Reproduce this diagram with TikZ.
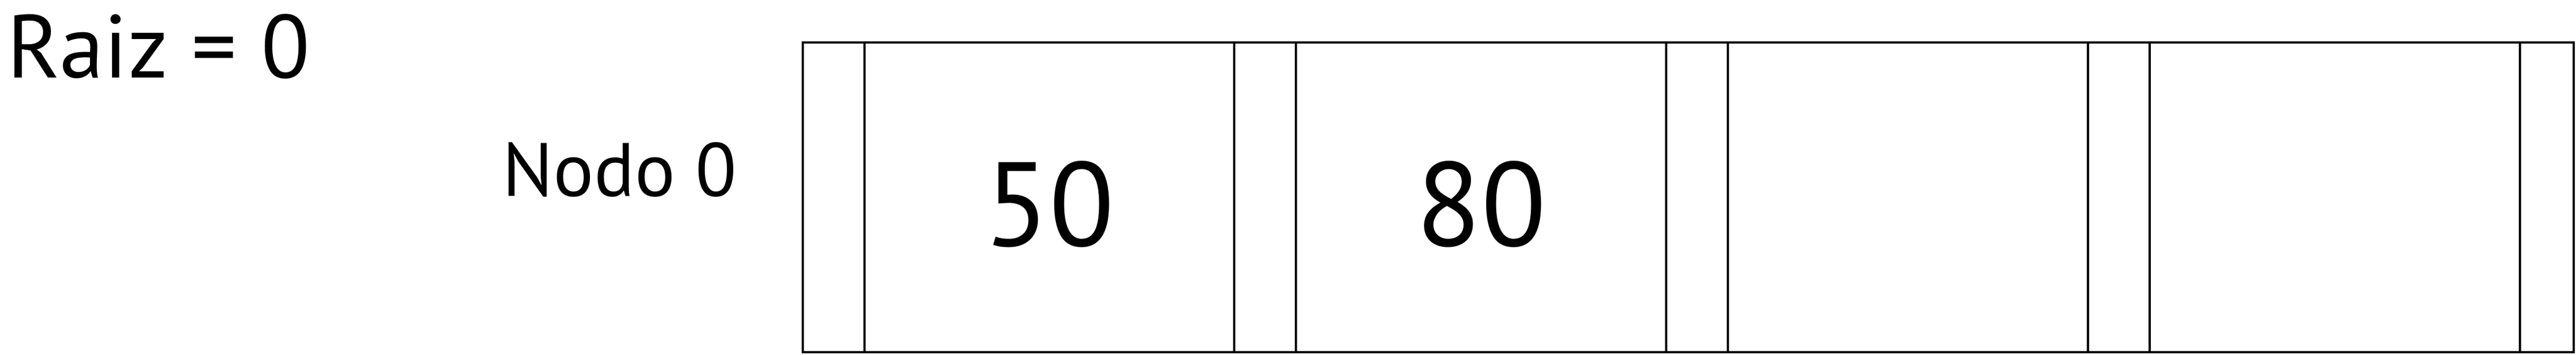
\documentclass[tikz,border=0pt]{standalone}
\usepackage{fontspec}
\setmainfont{PT Sans}
\usetikzlibrary{positioning}
\begin{document}
\begin{tikzpicture}
\tikzstyle{cell}=[rectangle,draw=black,line width=0.035cm,
inner sep=0pt,outer sep=0pt,minimum height=5.47cm,anchor=south west]
\tikzstyle{ptr}=[cell,minimum width=1.09cm]
\tikzstyle{key}=[cell,minimum width=6.54cm,text height=1.71cm,text depth=0cm,
font=\fontsize{60}{60}\selectfont]
\useasboundingbox (0,0) rectangle (45.5,6.26);

\node[anchor=base west,inner sep=0pt,font=\fontsize{45}{45}\selectfont] at (0.12,4.88) (raiz) {Raiz = 0};

\node[ptr] at (14.18,0.04) (p0) {};
\node[key,right=0mm of p0,minimum width=6.53cm] (k0) {50\hspace{0.4cm}};
\node[ptr,right=0mm of k0] (p1) {};
\node[key,right=0mm of p1] (k1) {80};
\node[ptr,right=0mm of k1] (p2) {};
\node[key,right=0mm of p2,minimum width=6.36cm] (k2) {};
\node[ptr,right=0mm of k2] (p3) {};
\node[key,right=0mm of p3] (k3) {};
\node[ptr,right=0mm of k3,minimum width=0.95cm] (p4) {};

\node[inner sep=0pt,font=\fontsize{38}{38}\selectfont,left=1.16cm of p0,yshift=0.49cm] (nodo) {Nodo 0};

\end{tikzpicture}
\end{document}
